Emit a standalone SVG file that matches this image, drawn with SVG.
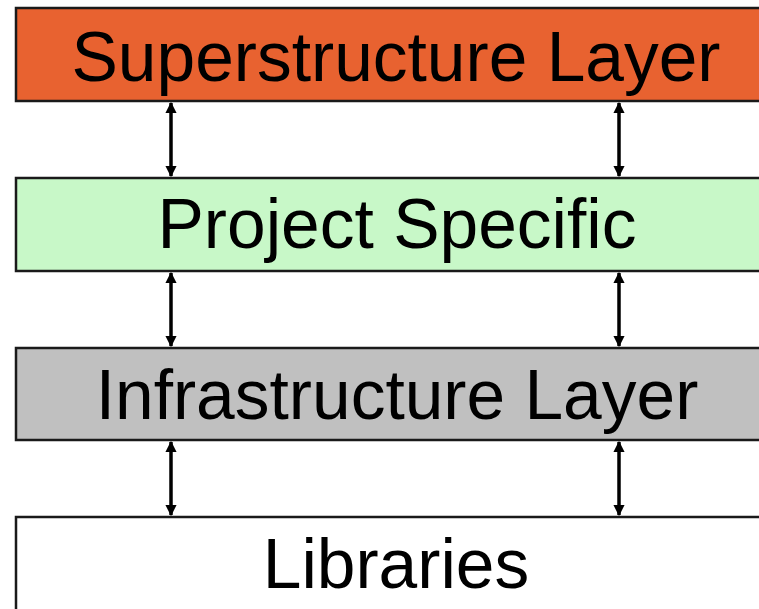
<svg xmlns="http://www.w3.org/2000/svg" width="759" height="609" viewBox="0 0 759 609">
<style>
.box{stroke:#1a1a1a;stroke-width:2.5}
.lbl{font-family:"Liberation Sans",Arial,sans-serif;font-size:69.5px;fill:#000;text-anchor:middle}
.conn{stroke:#000;stroke-width:3.5;fill:none}
</style>
<defs>
<marker id="ah" viewBox="0 0 10 10" refX="9" refY="5" markerWidth="3.2" markerHeight="3.4" orient="auto-start-reverse" markerUnits="strokeWidth">
<path d="M0,0 L10,5 L0,10 z" fill="#000"/>
</marker>
</defs>
<rect width="759" height="609" fill="#fff"/>
<g id="superstructure">
<rect class="box" x="16" y="8" width="780" height="93" fill="#E86230"/>
<text class="lbl" x="396" y="81">Superstructure Layer</text>
</g>
<g id="project">
<rect class="box" x="16" y="178" width="780" height="93" fill="#C8F8C8"/>
<text class="lbl" x="397" y="248">Project Specific</text>
</g>
<g id="infrastructure">
<rect class="box" x="16" y="348" width="780" height="92" fill="#C0C0C0"/>
<text class="lbl" x="397" y="419">Infrastructure Layer</text>
</g>
<g id="libraries">
<rect class="box" x="16" y="517" width="780" height="120" fill="#fff"/>
<text class="lbl" x="396" y="588">Libraries</text>
</g>
<g id="connectors">
<line class="conn" x1="171" y1="103" x2="171" y2="176" marker-start="url(#ah)" marker-end="url(#ah)"/>
<line class="conn" x1="619" y1="103" x2="619" y2="176" marker-start="url(#ah)" marker-end="url(#ah)"/>
<line class="conn" x1="171" y1="273" x2="171" y2="346" marker-start="url(#ah)" marker-end="url(#ah)"/>
<line class="conn" x1="619" y1="273" x2="619" y2="346" marker-start="url(#ah)" marker-end="url(#ah)"/>
<line class="conn" x1="171" y1="442" x2="171" y2="515" marker-start="url(#ah)" marker-end="url(#ah)"/>
<line class="conn" x1="619" y1="442" x2="619" y2="515" marker-start="url(#ah)" marker-end="url(#ah)"/>
</g>
</svg>
